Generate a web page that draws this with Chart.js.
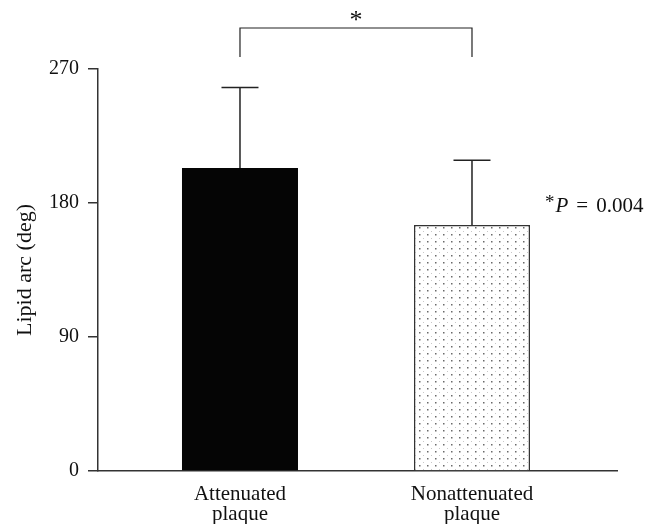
<!DOCTYPE html>
<html>
<head>
<meta charset="utf-8">
<script src="https://cdn.jsdelivr.net/npm/chart.js@4/dist/chart.umd.min.js"></script>
<style>
  html, body { margin: 0; padding: 0; background: #fff; }
  #wrap { width: 655px; height: 524px; position: relative; }
</style>
</head>
<body>
<div id="wrap"><canvas id="lipid-chart"></canvas></div>
<script>
const categories = [['Attenuated', 'plaque'], ['Nonattenuated', 'plaque']];
const lipidArc = [203.5, 165.2];
const lipidArcSD = [54, 43.5];
const yTicks = [0, 90, 180, 270];
const pValueText = '= 0.004';

const serif = '"Liberation Serif", "DejaVu Serif", serif';

// dotted fill for the second bar
function dotPattern() {
    const c = document.createElement('canvas');
    c.width = 8;
    c.height = 7;
    const g = c.getContext('2d');
    g.fillStyle = '#ffffff';
    g.fillRect(0, 0, 8, 7);
    g.fillStyle = '#6a6a6a';
    g.fillRect(3, 3, 1.5, 1.5);
    g.fillStyle = '#c8c8c8';
    g.fillRect(7, 0, 1, 1);
    return g.createPattern(c, 'repeat');
}

const errorBars = {
    id: 'errorBars',
    afterDatasetsDraw(chart) {
        const ctx = chart.ctx;
        const y = chart.scales.y;
        const meta = chart.getDatasetMeta(0);
        ctx.save();
        ctx.strokeStyle = '#222';
        ctx.lineWidth = 1.5;
        meta.data.forEach((bar, i) => {
            const top = y.getPixelForValue(lipidArc[i] + lipidArcSD[i]);
            ctx.beginPath();
            ctx.moveTo(bar.x, bar.y);
            ctx.lineTo(bar.x, top);
            ctx.moveTo(bar.x - 18.5, top);
            ctx.lineTo(bar.x + 18.5, top);
            ctx.stroke();
        });
        ctx.restore();
    }
};

const annotations = {
    id: 'annotations',
    afterDraw(chart) {
        const ctx = chart.ctx;
        const x = chart.scales.x;
        const area = chart.chartArea;
        const x0 = x.getPixelForValue(0);
        const x1 = x.getPixelForValue(1);
        const topY = area.top - 41;
        const legY = area.top - 12;
        ctx.save();
        ctx.strokeStyle = '#222';
        ctx.lineWidth = 1.2;
        ctx.beginPath();
        ctx.moveTo(x0, legY);
        ctx.lineTo(x0, topY);
        ctx.lineTo(x1, topY);
        ctx.lineTo(x1, legY);
        ctx.stroke();

        ctx.fillStyle = '#111';
        ctx.textAlign = 'center';
        ctx.textBaseline = 'alphabetic';
        ctx.font = '26px ' + serif;
        ctx.fillText('*', (x0 + x1) / 2, topY);

        // *P = 0.004
        let px = area.right - 72;
        const py = 212;
        ctx.textAlign = 'left';
        ctx.font = '19px ' + serif;
        ctx.fillText('*', px, py - 4);
        px += ctx.measureText('*').width + 1;
        ctx.font = 'italic 21px ' + serif;
        ctx.fillText('P', px, py);
        px += ctx.measureText('P').width + 8;
        ctx.font = '21px ' + serif;
        ctx.fillText('=', px, py);
        px += ctx.measureText('=').width + 8;
        ctx.fillText(pValueText.replace('= ', ''), px, py);
        ctx.restore();
    }
};

const canvas = document.getElementById('lipid-chart');
const lipidChart = new Chart(canvas, {
    type: 'bar',
    data: {
        datasets: [{
            data: lipidArc.map((v, i) => ({ x: i, y: v })),
            backgroundColor: ['#050505', dotPattern()],
            borderColor: ['#050505', '#333333'],
            borderWidth: [0, 1.5],
            categoryPercentage: 1,
            barPercentage: 0.5
        }]
    },
    options: {
        responsive: true,
        maintainAspectRatio: false,
        animation: false,
        layout: {
            padding: { top: 69, right: 38, left: 0, bottom: 0 }
        },
        scales: {
            x: {
                type: 'linear',
                offset: false,
                min: -0.612,
                max: 1.625,
                afterBuildTicks: (scale) => {
                    scale.ticks = categories.map((c, i) => ({ value: i }));
                },
                afterFit: (scale) => { scale.height = 53; },
                ticks: {
                    callback: (value) => categories[value],
                    color: '#111',
                    padding: 5,
                    maxRotation: 0,
                    autoSkip: false,
                    font: { family: serif, size: 21, lineHeight: 0.98 }
                },
                grid: { display: false },
                border: { display: true, color: '#333', width: 1.5 }
            },
            y: {
                min: 0,
                max: 270,
                afterBuildTicks: (scale) => {
                    scale.ticks = yTicks.map(v => ({ value: v }));
                },
                afterFit: (scale) => { scale.width = 98; },
                ticks: {
                    color: '#111',
                    padding: 9,
                    font: { family: serif, size: 20 }
                },
                grid: {
                    drawOnChartArea: false,
                    drawTicks: true,
                    tickLength: 10,
                    color: '#333',
                    lineWidth: 1.5
                },
                border: { display: true, color: '#333', width: 1.5 },
                title: {
                    display: true,
                    text: 'Lipid arc (deg)',
                    color: '#111',
                    padding: { top: 12, bottom: 0 },
                    font: { family: serif, size: 22 }
                }
            }
        },
        plugins: {
            legend: { display: false },
            tooltip: { enabled: false }
        }
    },
    plugins: [errorBars, annotations]
});
</script>
</body>
</html>
